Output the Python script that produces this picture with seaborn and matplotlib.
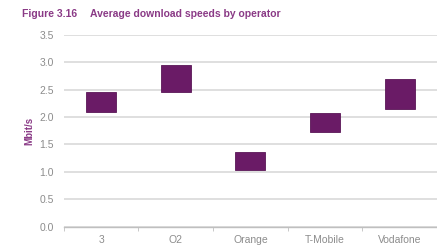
import numpy as np
import pandas as pd
import seaborn as sns
import matplotlib.pyplot as plt
from matplotlib.ticker import FixedLocator

# Dados - faixa de velocidade media (Mbit/s) por operadora
operadoras = ['3', 'O2', 'Orange', 'T-Mobile', 'Vodafone']
vel_min = [2.09, 2.46, 1.04, 1.73, 2.15]
vel_max = [2.45, 2.94, 1.36, 2.08, 2.70]
yticks = [0.0, 0.5, 1.0, 1.5, 2.0, 2.5, 3.0, 3.5]

df = pd.DataFrame({'operadora': operadoras,
                   'base': vel_min,
                   'faixa': np.array(vel_max) - np.array(vel_min)})

sns.set_style('white')
plt.rcParams['font.family'] = ['Liberation Sans', 'DejaVu Sans']

roxo = '#6a1b66'
roxo_txt = '#8a3a86'
cinza = '#8c8c8c'

fig = plt.figure(figsize=(4.37, 2.5), dpi=100)
ax = fig.add_axes([0.146, 0.093, 0.854, 0.768])

sns.barplot(data=df, x='operadora', y='faixa', bottom=df['base'],
            color=roxo, saturation=1, width=0.4, ax=ax,
            edgecolor='#5a1656', linewidth=0.6)

ax.set_ylim(0, 3.5)
ax.set_xlim(-0.5, 4.5)
ax.set_yticks(yticks)
ax.set_yticklabels([f'{v:.1f}' for v in yticks])
ax.yaxis.grid(True, color='#d9d9d9', linewidth=1.2)
ax.set_axisbelow(True)

for s in ['top', 'right', 'left']:
    ax.spines[s].set_visible(False)
ax.spines['bottom'].set_color('#bfbfbf')
ax.spines['bottom'].set_linewidth(1.0)

# Marcas entre as categorias
ax.xaxis.set_minor_locator(FixedLocator(np.arange(-0.5, 4.6, 1.0)))
ax.tick_params(axis='x', which='minor', length=3, color='#bfbfbf', direction='out', bottom=True)
ax.tick_params(axis='x', which='major', length=0, pad=6, labelsize=7.5, labelcolor=cinza)
ax.tick_params(axis='y', length=0, pad=7, labelsize=7.5, labelcolor=cinza)

ax.set_xlabel('')
ax.set_ylabel('Mbit/s', color=roxo_txt, fontsize=7, fontweight='bold', labelpad=4)

fig.text(0.05, 0.945, 'Figure 3.16', color=roxo_txt, fontsize=7.5, fontweight='bold', va='center')
fig.text(0.205, 0.945, 'Average download speeds by operator', color=roxo_txt,
         fontsize=7.5, fontweight='bold', va='center')

fig.savefig('out.png', dpi=100)
